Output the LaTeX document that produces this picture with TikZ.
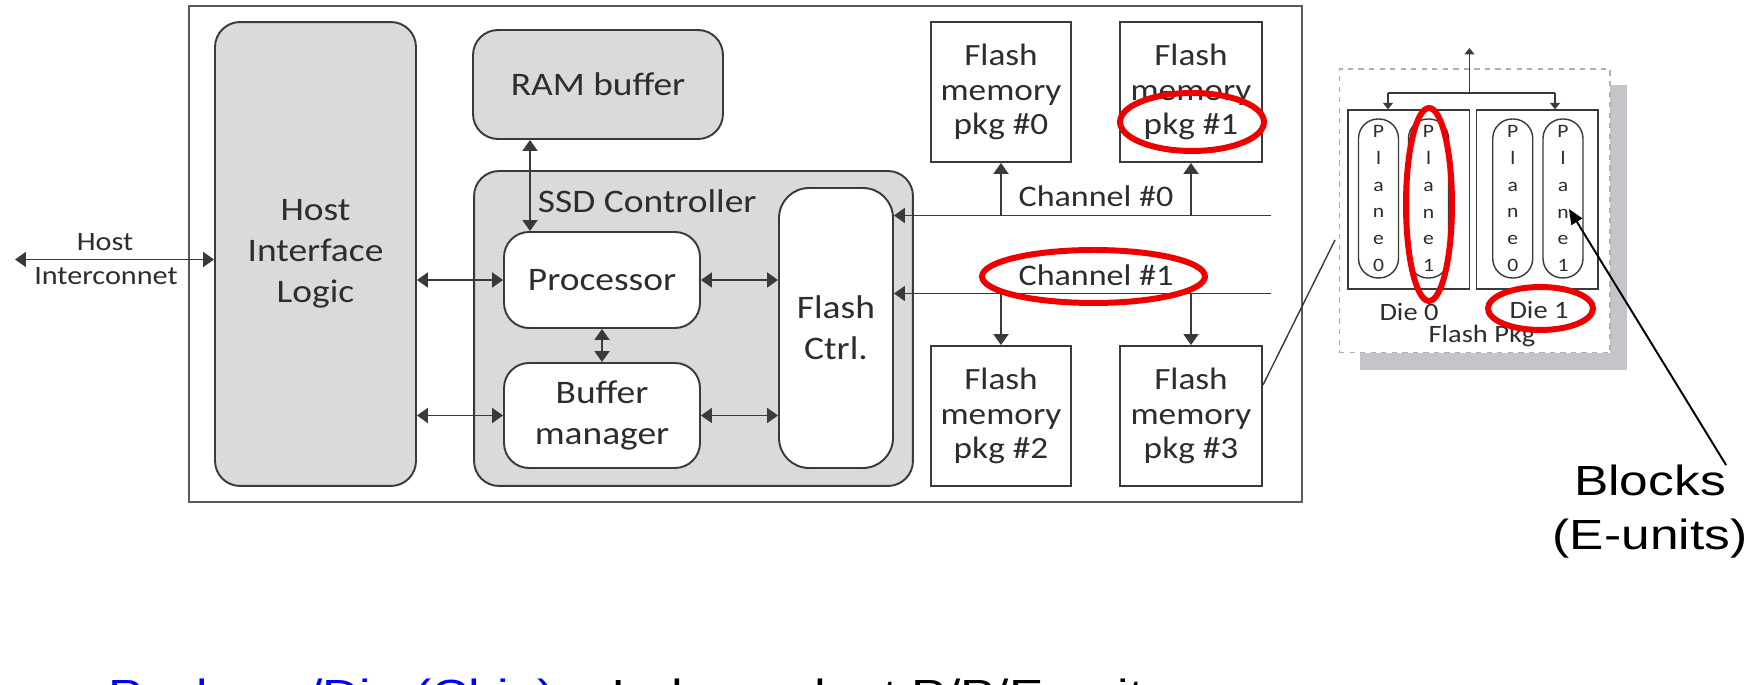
\documentclass[tikz,border=0pt]{standalone}
\usepackage{fontspec}
\setmainfont{Carlito}[FakeStretch=1.14]
\newfontfamily\arialfont{Liberation Sans}[FakeStretch=1.22]
\usetikzlibrary{arrows.meta}
\definecolor{boxgray}{RGB}{217,218,220}
\definecolor{linegray}{RGB}{58,58,58}
\definecolor{framegray}{RGB}{90,90,90}
\definecolor{txtgray}{RGB}{45,45,45}
\definecolor{shadowgray}{RGB}{196,197,200}
\definecolor{dashgray}{RGB}{175,175,175}
\definecolor{ringred}{RGB}{238,0,0}
\definecolor{linkblue}{RGB}{0,0,255}
\tikzset{
  frame/.style={draw=framegray, line width=1.1pt},
  graybox/.style={draw=linegray, fill=boxgray, line width=1.1pt, rounded corners=0.5cm, inner sep=0pt, align=center, text=txtgray, font=\fontsize{18.7}{23.2}\selectfont},
  whitebox/.style={graybox, fill=white},
  pkgbox/.style={draw=linegray, fill=white, line width=1.1pt, inner sep=0pt, align=center, text=txtgray, minimum width=2.8cm, minimum height=2.8cm, font=\fontsize{17.6}{19.8}\selectfont},
  chantxt/.style={inner sep=0pt, text=txtgray, font=\fontsize{17}{20}\selectfont},
  hosttxt/.style={inner sep=0pt, text=txtgray, font=\fontsize{15.1}{18}\selectfont},
  dietxt/.style={inner sep=0pt, text=txtgray, font=\fontsize{14.2}{17}\selectfont},
  diebox/.style={draw=linegray, line width=0.8pt, minimum width=2.43cm, minimum height=3.58cm, inner sep=0pt},
  planebox/.style={draw=linegray, line width=0.8pt, rounded corners=0.39cm, minimum width=0.8cm, minimum height=3.18cm, inner sep=0pt, align=center, text=txtgray, font=\fontsize{10.8}{15.3}\selectfont},
  link/.style={draw=linegray, line width=1.1pt, -{Triangle[length=0.22cm,width=0.3cm]}},
  duplex/.style={link, {Triangle[length=0.22cm,width=0.3cm]}-{Triangle[length=0.22cm,width=0.3cm]}},
  thinline/.style={draw=linegray, line width=0.8pt},
  thinlink/.style={thinline, -{Triangle[length=0.13cm,width=0.2cm]}},
  redring/.style={draw=ringred, line width=3.4pt},
  bigarial/.style={inner sep=0pt, font=\arialfont\fontsize{24}{30}\selectfont},
}

\begin{document}
\begin{tikzpicture}[x=0.02cm, y=-0.02cm]
\useasboundingbox (0,0) rectangle (1756,685);

% SSD board
\draw[frame] (189,6) rectangle (1302,502);
\node[graybox, minimum width=4.02cm, minimum height=9.28cm] (hil) at (315.5,254) {Host\\Interface\\Logic};
\node[graybox, minimum width=5.0cm, minimum height=2.18cm] (ram) at (598,84.5) {RAM buffer};
\node[graybox, minimum width=8.78cm, minimum height=6.3cm] (ssdctl) at (693.5,328.5) {};
\node[graybox, anchor=west, draw=none, fill=none] (ssdlbl) at (537,201) {SSD Controller};
\node[whitebox, minimum width=3.92cm, minimum height=1.92cm] (proc) at (602,280) {Processor};
\node[whitebox, minimum width=3.92cm, minimum height=2.1cm] (buf) at (602,415.5) {Buffer\\manager};
\node[whitebox, rounded corners=0.6cm, minimum width=2.28cm, minimum height=5.6cm] (fctrl) at (836,328) {Flash\\Ctrl.};

\node[pkgbox] (pkg0) at (1001,92) {Flash\\memory\\pkg \#0};
\node[pkgbox, minimum width=2.84cm] (pkg1) at (1191,92) {Flash\\memory\\pkg \#1};
\node[pkgbox] (pkg2) at (1001,416) {Flash\\memory\\pkg \#2};
\node[pkgbox, minimum width=2.84cm] (pkg3) at (1191,416) {Flash\\memory\\pkg \#3};

% host side
\coordinate (hostend) at (15,259.5);
\draw[duplex] (hostend) -- (hostend -| hil.west);
\node[hosttxt] (hostlbl) at (105,242) {Host};
\node[hosttxt] (iclbl) at (106,276) {Interconnet};

\draw[duplex] (hil.east |- proc) -- (proc.west);
\draw[duplex] (hil.east |- buf) -- (buf.west);
\coordinate (ramlink) at (530,0);
\draw[duplex] (ram.south -| ramlink) -- (proc.north -| ramlink);
\draw[duplex] (proc.south) -- (buf.north);
\draw[duplex] (proc.east) -- (fctrl.west |- proc.east);
\draw[duplex] (buf.east) -- (fctrl.west |- buf.east);

% channels
\coordinate (ch0end) at (1271,215.5);
\coordinate (ch1end) at (1271,293.5);
\draw[link] (ch0end) -- (fctrl.east |- ch0end);
\draw[link] (ch1end) -- (fctrl.east |- ch1end);
\draw[link] (pkg0.south |- ch0end) -- (pkg0.south);
\draw[link] (pkg1.south |- ch0end) -- (pkg1.south);
\draw[link] (pkg2.north |- ch1end) -- (pkg2.north);
\draw[link] (pkg3.north |- ch1end) -- (pkg3.north);
\node[chantxt] (ch0lbl) at (1096,196) {Channel \#0};
\node[chantxt] (ch1lbl) at (1096,275.5) {Channel \#1};

% flash package detail
\fill[shadowgray] (1360,85) rectangle (1627,370);
\node[draw=dashgray, dashed, fill=white, line width=0.6pt, minimum width=5.42cm, minimum height=5.68cm] (pkgview) at (1474.5,211) {};
\node[diebox] (die0) at (1408.75,199.5) {};
\node[diebox] (die1) at (1537.3,199.5) {};
\node[planebox] (d0p0) at (1378.5,198.5) {P\\l\\a\\n\\e\\0};
\node[planebox] (d0p1) at (1428.5,198.5) {P\\l\\a\\n\\e\\1};
\node[planebox] (d1p0) at (1512.75,198.5) {P\\l\\a\\n\\e\\0};
\node[planebox] (d1p1) at (1563,198.5) {P\\l\\a\\n\\e\\1};
\node[dietxt] (die0lbl) at (1409,312) {Die 0};
\node[dietxt] (die1lbl) at (1539,310) {Die 1};
\node[dietxt] (pkglbl) at (1482,336) {Flash Pkg};

\coordinate (pkgtop) at (1469.5,48);
\coordinate (fork) at (1469.5,93);
\coordinate (forkL) at (1388,93);
\coordinate (forkR) at (1555,93);
\draw[thinlink] (fork) -- (pkgtop);
\draw[thinline] (forkL) -- (forkR);
\draw[thinlink] (forkL) -- (forkL |- die0.north);
\draw[thinlink] (forkR) -- (forkR |- die1.north);

\coordinate (zoomfrom) at (1263,385);
\coordinate (zoomto) at (1335,240);
\draw[thinline] (zoomfrom) -- (zoomto);

% highlights
\draw[redring] (1192,122) ellipse [x radius=1.44cm, y radius=0.58cm];
\draw[redring] (1093.5,276.5) ellipse [x radius=2.23cm, y radius=0.53cm];
\draw[redring] (1429,204.5) ellipse [x radius=0.46cm, y radius=1.93cm];
\draw[redring] (1540.5,308.5) ellipse [x radius=1.05cm, y radius=0.43cm];

% annotation
\node[bigarial, anchor=base] (blocks) at (1650,496) {Blocks};
\node[bigarial, anchor=base] (eunits) at (1650,550) {(E-units)};
\coordinate (blocktip) at (1569,209);
\draw[line width=1.1pt, -{Triangle[length=0.3cm,width=0.25cm]}] (blocks.north east) -- (blocktip);

\node[bigarial, anchor=base west] (note) at (108,709.5) {\textcolor{linkblue}{Package/Die (Chip)} – Independent P/P/E-units};
\end{tikzpicture}
\end{document}
